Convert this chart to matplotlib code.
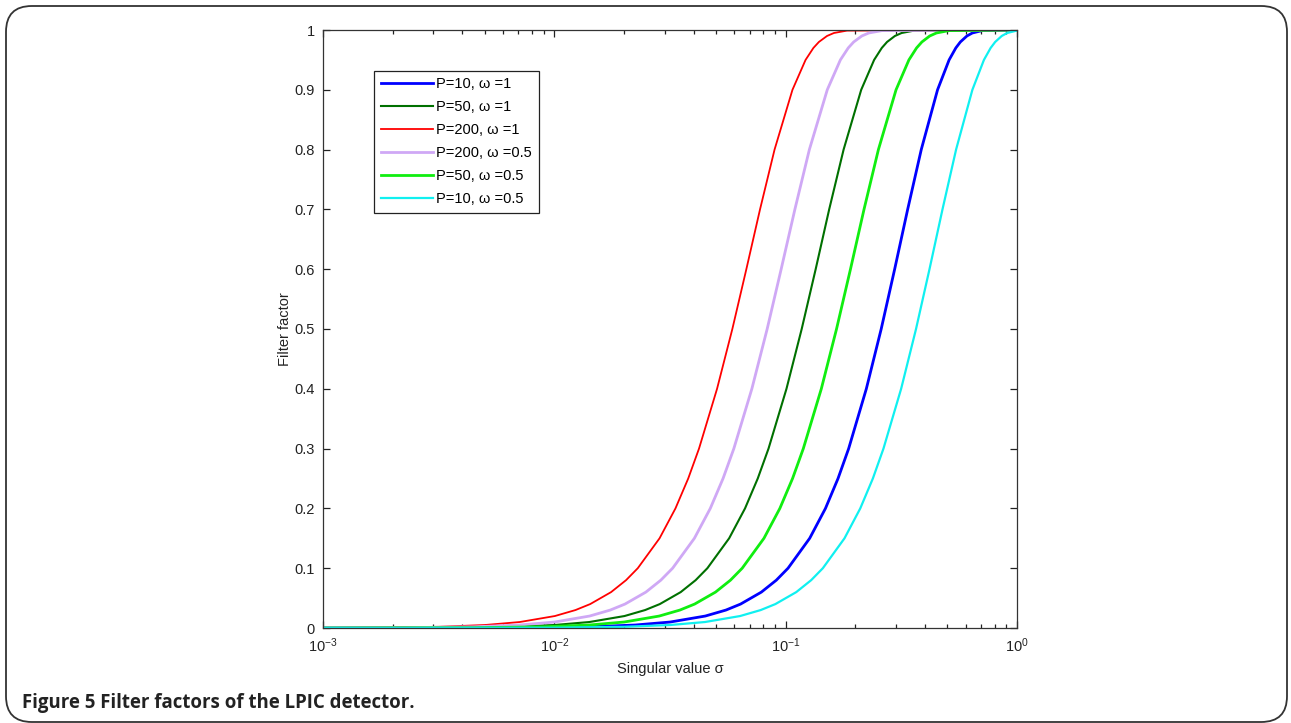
import math
import matplotlib
matplotlib.use("Agg")
import matplotlib.pyplot as plt
from matplotlib.patches import FancyBboxPatch
from matplotlib.ticker import LogLocator, FixedLocator, FuncFormatter, NullFormatter

plt.rcParams['font.family'] = ['Liberation Sans', 'DejaVu Sans']
plt.rcParams['mathtext.fontset'] = 'custom'
plt.rcParams['mathtext.rm'] = 'Liberation Sans'

# --- values: sigma at which each curve reaches a given filter factor ---
y_levels = [0.0, 0.0005, 0.002, 0.005, 0.01, 0.02, 0.03, 0.04, 0.06, 0.08,
            0.1, 0.15, 0.2, 0.25, 0.3, 0.4, 0.5, 0.6, 0.7, 0.8,
            0.9, 0.95, 0.97, 0.98, 0.99, 0.995, 0.999, 1.0]

x_p10_w1 = [0.001, 0.00707, 0.0142, 0.02239, 0.0317, 0.04493, 0.0552, 0.06383, 0.0785, 0.09112,
            0.1024, 0.127, 0.1486, 0.1684, 0.1872, 0.2232, 0.2588, 0.2959, 0.3368, 0.3856,
            0.4535, 0.5088, 0.5439, 0.569, 0.6075, 0.6413, 0.7063, 1.0]
x_p50_w1 = [0.001, 0.00316, 0.00633, 0.01001, 0.01418, 0.0201, 0.02468, 0.02857, 0.03517, 0.04082,
            0.04588, 0.05697, 0.06673, 0.07574, 0.08431, 0.1008, 0.1173, 0.1348, 0.1542, 0.178,
            0.2121, 0.2412, 0.2603, 0.2743, 0.2966, 0.3171, 0.3592, 1.0]
x_p200_w1 = [0.001, 0.00158, 0.00316, 0.00501, 0.00709, 0.01005, 0.01234, 0.01429, 0.01759, 0.02042,
             0.02295, 0.0285, 0.03339, 0.03791, 0.04221, 0.05051, 0.05882, 0.06761, 0.07747, 0.08953,
             0.107, 0.1219, 0.1318, 0.1392, 0.1509, 0.1617, 0.1843, 1.0]
x_p200_w05 = [0.001, 0.00224, 0.00447, 0.00708, 0.01003, 0.01421, 0.01745, 0.0202, 0.02487, 0.02887,
              0.03246, 0.04031, 0.04723, 0.05362, 0.0597, 0.07143, 0.08318, 0.09561, 0.1096, 0.1266,
              0.1513, 0.1724, 0.1864, 0.1968, 0.2134, 0.2287, 0.2606, 1.0]
x_p50_w05 = [0.001, 0.00447, 0.00895, 0.01416, 0.02005, 0.02842, 0.0349, 0.0404, 0.04973, 0.05773,
             0.06489, 0.08056, 0.09437, 0.1071, 0.1192, 0.1426, 0.1659, 0.1906, 0.2181, 0.2517,
             0.3, 0.341, 0.368, 0.388, 0.4195, 0.4484, 0.508, 1.0]
x_p10_w05 = [0.001, 0.01, 0.02, 0.03166, 0.0448, 0.06353, 0.078, 0.09027, 0.1111, 0.1289,
             0.1448, 0.1796, 0.2101, 0.2382, 0.2647, 0.3156, 0.366, 0.4185, 0.4763, 0.5453,
             0.6414, 0.7195, 0.7692, 0.8047, 0.8591, 0.9069, 0.9988, 1.0]

labels = ['P=10, ω =1', 'P=50, ω =1', 'P=200, ω =1',
          'P=200, ω =0.5', 'P=50, ω =0.5', 'P=10, ω =0.5']
series = [x_p10_w1, x_p50_w1, x_p200_w1, x_p200_w05, x_p50_w05, x_p10_w05]
colors = ['#0000ff', '#007000', '#ff0000', '#cfa8f5', '#10ee10', '#10f0f0']
widths = [2.0, 1.5, 1.3, 2.0, 2.0, 1.6]

fig = plt.figure(figsize=(12.91, 7.23), dpi=100)

# rounded frame around the figure
frame = FancyBboxPatch((6 / 1291, 1 / 723), 1281 / 1291, 716 / 723,
                       boxstyle="round,pad=0,rounding_size=0.02",
                       transform=fig.transFigure, fill=False,
                       edgecolor='#333333', linewidth=1.3, mutation_aspect=1291 / 723)
fig.patches.append(frame)

ax = fig.add_axes([323 / 1291, 1 - 628 / 723, 694 / 1291, 598 / 723])

for xs, lab, c, lw in zip(series, labels, colors, widths):
    ax.plot(xs, y_levels, color=c, lw=lw, label=lab)

ax.set_xscale('log')
ax.set_xlim(1e-3, 1)
ax.set_ylim(0, 1)

ax.xaxis.set_major_locator(LogLocator(base=10, numticks=10))
ax.xaxis.set_minor_locator(LogLocator(base=10, subs=range(2, 10), numticks=20))
ax.xaxis.set_minor_formatter(NullFormatter())
ax.xaxis.set_major_formatter(FuncFormatter(lambda v, p: r'$\mathdefault{10^{%d}}$' % round(math.log10(v))))
ax.yaxis.set_major_locator(FixedLocator([0, 0.1, 0.2, 0.3, 0.4, 0.5, 0.6, 0.7, 0.8, 0.9, 1.0]))
ax.yaxis.set_major_formatter(FuncFormatter(lambda v, p: '%g' % round(v, 1)))

ax.tick_params(which='both', direction='in', top=True, right=True,
               labelsize=10.5, colors='#222222', width=0.9)
ax.tick_params(which='major', length=5, pad=6)
ax.tick_params(which='minor', length=3)
for s in ax.spines.values():
    s.set_color('#333333')
    s.set_linewidth(0.9)

ax.set_xlabel('Singular value σ', fontsize=10.5, color='#222222', labelpad=5)
ax.set_ylabel('Filter factor', fontsize=10.5, color='#222222', labelpad=2)

leg = ax.legend(loc='upper left', bbox_to_anchor=(0.074, 0.932), fontsize=10.5,
                fancybox=False, edgecolor='#222222', framealpha=1,
                handlelength=3.6, labelspacing=0.62, borderpad=0.45,
                handletextpad=0.2, borderaxespad=0)
leg.get_frame().set_linewidth(0.9)

fig.text(22 / 1291, 1 - 703 / 723, 'Figure 5 Filter factors of the LPIC detector.',
         fontsize=13.4, fontweight='bold', family=['Open Sans', 'DejaVu Sans'],
         color='#222222', va='center', ha='left')

fig.savefig('out.png', dpi=100)
